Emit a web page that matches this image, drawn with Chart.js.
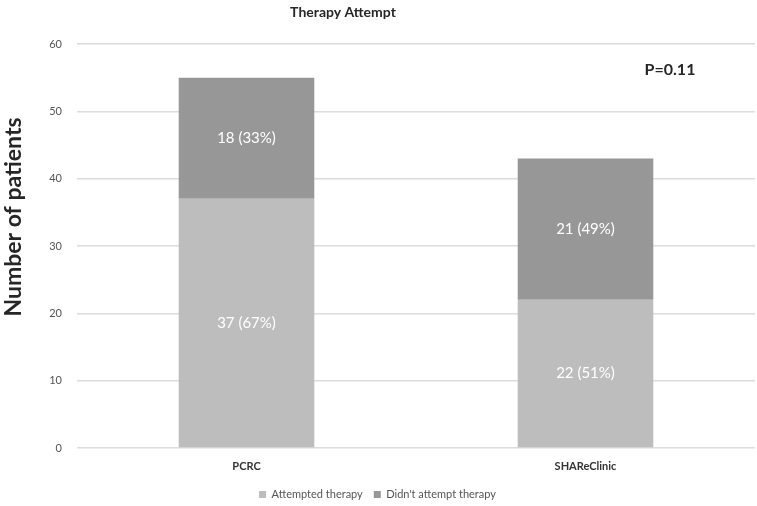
<!DOCTYPE html>
<html>
<head>
<meta charset="utf-8">
<script src="https://cdn.jsdelivr.net/npm/chart.js@4"></script>
<style>
  html, body { margin: 0; padding: 0; background: #fff; }
  #wrap { width: 757px; height: 506px; position: relative; }
</style>
</head>
<body>
<div id="wrap"><canvas id="therapyChart"></canvas></div>
<script>
// data
var categories = ['PCRC', 'SHAReClinic'];
var attempted = [37, 22];
var notAttempted = [18, 21];
var yTicks = [0, 10, 20, 30, 40, 50, 60];
var pValueText = 'P=0.11';

var lightGrey = '#bdbdbd';
var darkGrey = '#979797';

// labels like "37 (67%)" in the middle of each segment
var segmentLabels = {
    id: 'segmentLabels',
    afterDatasetsDraw: function (chart) {
        var ctx = chart.ctx;
        ctx.save();
        ctx.font = '15px Lato';
        ctx.fillStyle = '#ffffff';
        ctx.textAlign = 'center';
        ctx.textBaseline = 'middle';
        chart.data.datasets.forEach(function (ds, di) {
            var meta = chart.getDatasetMeta(di);
            meta.data.forEach(function (bar, i) {
                var total = attempted[i] + notAttempted[i];
                var v = ds.data[i];
                var pct = Math.round(v / total * 100);
                var midY = (bar.y + bar.base) / 2;
                ctx.fillText(v + ' (' + pct + '%)', bar.x, midY);
            });
        });
        ctx.restore();
    }
};

// title, axis title and p value text
var extraText = {
    id: 'extraText',
    afterDraw: function (chart) {
        var ctx = chart.ctx;
        ctx.save();
        ctx.fillStyle = '#262626';
        ctx.textBaseline = 'middle';
        ctx.textAlign = 'center';
        ctx.font = 'bold 14px Lato';
        ctx.fillText('Therapy Attempt', 343, 12);
        ctx.font = 'bold 16px Lato';
        ctx.fillText(pValueText, 670, 70);
        // y axis title
        ctx.translate(14, 217);
        ctx.rotate(-Math.PI / 2);
        ctx.font = 'bold 23px Lato';
        ctx.fillText('Number of patients', 0, 0);
        ctx.restore();
    }
};

var ctx = document.getElementById('therapyChart').getContext('2d');
var therapyChart = new Chart(ctx, {
    type: 'bar',
    data: {
        labels: categories,
        datasets: [{
            label: 'Attempted therapy',
            data: attempted,
            backgroundColor: lightGrey,
            barPercentage: 0.8,
            categoryPercentage: 0.5
        }, {
            label: "Didn't attempt therapy",
            data: notAttempted,
            backgroundColor: darkGrey,
            barPercentage: 0.8,
            categoryPercentage: 0.5
        }]
    },
    options: {
        responsive: true,
        maintainAspectRatio: false,
        animation: false,
        layout: {
            padding: { top: 44, right: 2, left: 0, bottom: -4 }
        },
        scales: {
            x: {
                stacked: true,
                grid: { display: false, drawTicks: false },
                border: { display: false },
                ticks: {
                    color: '#333',
                    font: { family: 'Lato', size: 11, weight: 'bold' },
                    padding: 12
                },
                afterFit: function (scale) { scale.height = 30; }
            },
            y: {
                stacked: true,
                min: 0,
                max: 60,
                afterBuildTicks: function (scale) {
                    scale.ticks = yTicks.map(function (v) { return { value: v }; });
                },
                grid: { color: '#dcdcdc', lineWidth: 1.5, drawTicks: false },
                border: { display: false },
                ticks: {
                    color: '#555',
                    font: { family: 'Lato', size: 11 },
                    padding: 15
                },
                afterFit: function (scale) { scale.width = 77; }
            }
        },
        plugins: {
            legend: {
                position: 'bottom',
                labels: {
                    boxWidth: 7,
                    boxHeight: 7,
                    color: '#555',
                    font: { family: 'Lato', size: 11 },
                    padding: 11
                }
            },
            tooltip: { enabled: false }
        }
    },
    plugins: [segmentLabels, extraText]
});
</script>
</body>
</html>
